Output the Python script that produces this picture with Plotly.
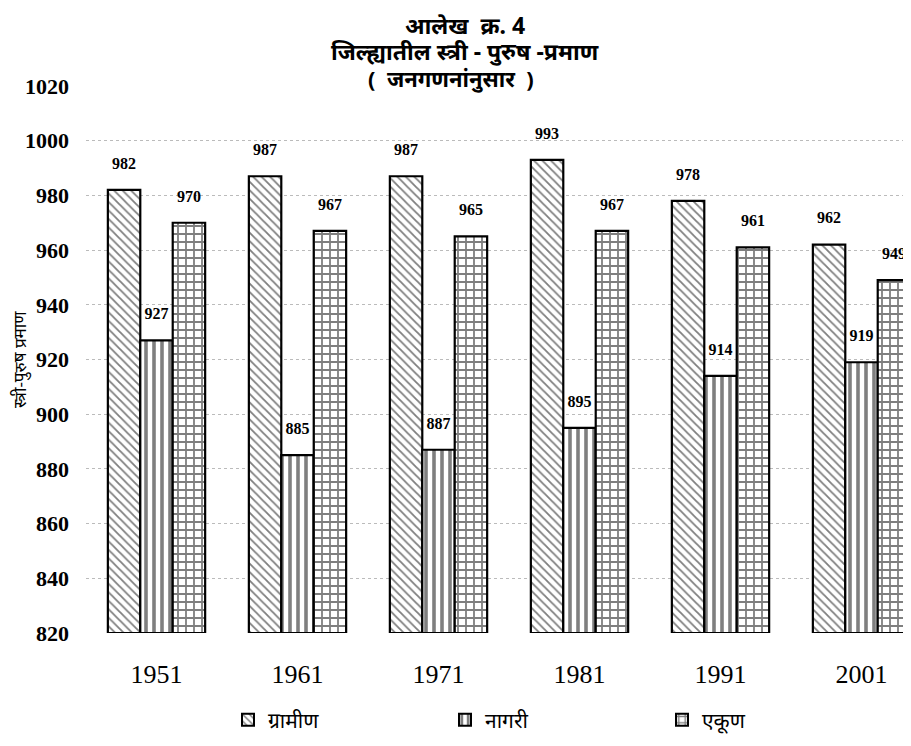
import plotly.graph_objects as go

years = ["1951", "1961", "1971", "1981", "1991", "2001"]
rural = [982, 987, 987, 993, 978, 962]
urban = [927, 885, 887, 895, 914, 919]
total = [970, 967, 965, 967, 961, 949]
series_names = ["ग्रामीण", "नागरी", "एकूण"]
y_ticks = [820, 840, 860, 880, 900, 920, 940, 960, 980, 1000, 1020]

idx = list(range(len(years)))
serif = "Liberation Serif, Times New Roman, serif"

# page body has an 8px margin: figure pixel = screen pixel - 8
OFF = 8
W, H = 911, 746
ML, MR, MT, MB = 86 - OFF, 0, 86 - OFF, H - (633 - OFF)
plot_w = W - ML - MR
plot_h = H - MT - MB

def px_x(x):
    return (x - OFF - ML) / plot_w

def px_y(y):
    return (H - MB - (y - OFF)) / plot_h

patterns = [("\\", 6, 0.3), ("|", 8, 0.45), ("+", 8, 0.4)]
data = [rural, urban, total]

fig = go.Figure()
for name, vals, (shape, size, sol) in zip(series_names, data, patterns):
    fig.add_trace(go.Bar(
        x=idx, y=[v - 820 for v in vals], base=820, name=name,
        offsetgroup=name, alignmentgroup="g",
        marker=dict(color="white", line=dict(color="black", width=2.2),
                    pattern=dict(shape=shape, fgcolor="black", bgcolor="white",
                                 size=size, solidity=sol, fillmode="overlay")),
    ))
for name, vals in zip(series_names, data):
    fig.add_trace(go.Scatter(
        x=idx, y=vals, mode="markers+text", text=[str(v) for v in vals],
        textposition="top center", showlegend=False, hoverinfo="skip",
        offsetgroup=name, alignmentgroup="g", cliponaxis=False,
        marker=dict(size=26, opacity=0, color="white"),
        textfont=dict(family=serif, size=16, color="black", weight="bold"),
    ))

fig.update_layout(
    width=W, height=H,
    margin=dict(l=ML, r=MR, t=MT, b=MB, autoexpand=False),
    paper_bgcolor="white", plot_bgcolor="white",
    barmode="group", bargap=0.31, bargroupgap=0,
    scattermode="group", scattergap=0.31,
    showlegend=True,
    legend=dict(orientation="h", x=px_x(228), xanchor="left", y=px_y(720), yanchor="middle",
                entrywidth=172, entrywidthmode="pixels",
                font=dict(size=21, color="black"), itemsizing="constant"),
    font=dict(family="Noto Sans, sans-serif", color="black"),
    xaxis=dict(range=[-0.5, -0.5 + plot_w / 141.0], tickmode="array",
               tickvals=idx, ticktext=years, automargin=False,
               tickfont=dict(family=serif, size=26, color="black"),
               showgrid=False, zeroline=False, showline=False, ticks="", ticklabelstandoff=23),
    yaxis=dict(range=[820, 1020], tickmode="array", tickvals=y_ticks,
               ticktext=[str(t) for t in y_ticks], automargin=False,
               tickfont=dict(family=serif, size=22, color="black", weight="bold"),
               showgrid=True, gridcolor="#bbbbbb", griddash="dot", gridwidth=1,
               zeroline=False, showline=False, ticks="", ticklabelstandoff=16),
    annotations=[
        dict(text="<b>आलेख  क्र. 4</b>", x=px_x(465), y=px_y(25), font=dict(size=23)),
        dict(text="<b>जिल्ह्यातील स्त्री - पुरुष -प्रमाण</b>", x=px_x(465), y=px_y(51), font=dict(size=23)),
        dict(text="<b>(  जनगणनांनुसार  )</b>", x=px_x(451), y=px_y(78), font=dict(size=22)),
        dict(text="स्त्री-पुरुष प्रमाण", textangle=-90, x=px_x(20), y=px_y(360), font=dict(size=17)),
    ],
)
fig.update_annotations(xref="paper", yref="paper", xanchor="center", yanchor="middle", showarrow=False)

fig.write_html("out.html")
